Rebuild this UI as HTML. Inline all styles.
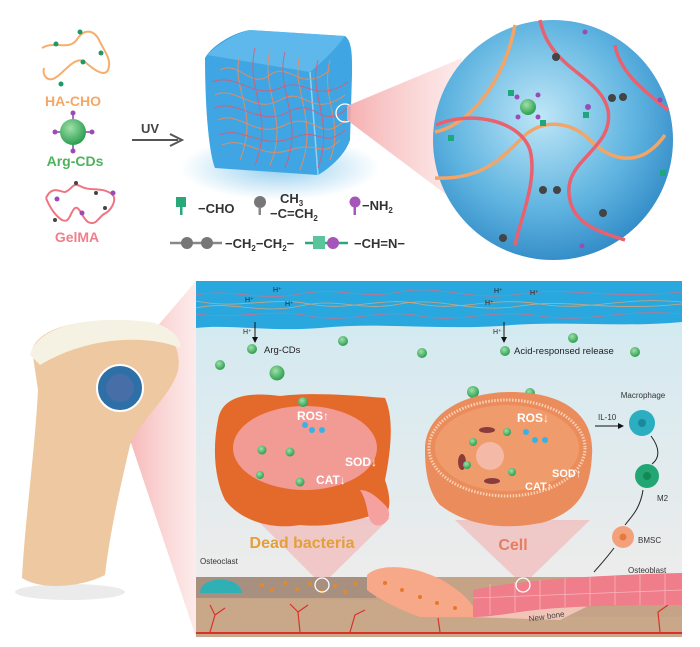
<!DOCTYPE html>
<html><head><meta charset="utf-8"><style>
html,body{margin:0;padding:0;background:#fff;width:700px;height:647px;overflow:hidden}
svg{display:block}
text{font-family:"Liberation Sans",Arial,sans-serif}
</style></head><body>
<svg width="700" height="647" viewBox="0 0 700 647" xmlns="http://www.w3.org/2000/svg">
<defs>
<radialGradient id="sph" cx="0.45" cy="0.4" r="0.65"><stop offset="0" stop-color="#bfe6f7"/><stop offset="0.6" stop-color="#5fb4e0"/><stop offset="1" stop-color="#2d86c4"/></radialGradient>
<radialGradient id="gdot" cx="0.4" cy="0.35" r="0.7"><stop offset="0" stop-color="#9fe0a8"/><stop offset="1" stop-color="#239a4a"/></radialGradient>
<linearGradient id="cone" x1="0" x2="1"><stop offset="0" stop-color="#f4a6a6" stop-opacity="0.9"/><stop offset="1" stop-color="#fbd6d6" stop-opacity="0.5"/></linearGradient>
<linearGradient id="bg2" x1="0" y1="0" x2="0" y2="1"><stop offset="0" stop-color="#cfeaf2"/><stop offset="1" stop-color="#f3ecea"/></linearGradient>
<radialGradient id="glow" cx="0.5" cy="0.5" r="0.5"><stop offset="0" stop-color="#4fb0e4" stop-opacity="0.6"/><stop offset="1" stop-color="#4fb0e4" stop-opacity="0"/></radialGradient>
</defs>

<!-- top left components -->
<path d="M42,48 C55,40 70,52 78,38 C85,28 95,30 100,42 C105,52 112,60 108,70 C104,78 92,68 85,62 C75,55 65,72 55,78 C48,82 42,76 44,68" fill="none" stroke="#f7ad6e" stroke-width="2"/>
<circle cx="56" cy="44" r="2.5" fill="#1a9a6a"/><circle cx="80" cy="32" r="2.5" fill="#1a9a6a"/><circle cx="101" cy="53" r="2.5" fill="#1a9a6a"/><circle cx="83" cy="62" r="2.5" fill="#1a9a6a"/><circle cx="61" cy="84" r="2.5" fill="#1a9a6a"/>
<text x="73" y="106" font-size="14" font-weight="bold" fill="#f7a765" text-anchor="middle">HA-CHO</text>
<line x1="73" y1="112" x2="73" y2="152" stroke="#8d3fa8" stroke-width="1.5"/><line x1="55" y1="132" x2="91" y2="132" stroke="#8d3fa8" stroke-width="1.5"/>
<circle cx="73" cy="132" r="13" fill="url(#gdot)"/>
<circle cx="73" cy="113" r="2.5" fill="#9b4bb5"/><circle cx="73" cy="151" r="2.5" fill="#9b4bb5"/><circle cx="55" cy="132" r="2.5" fill="#9b4bb5"/><circle cx="92" cy="132" r="2.5" fill="#9b4bb5"/>
<text x="75" y="166" font-size="14" font-weight="bold" fill="#4db35a" text-anchor="middle">Arg-CDs</text>
<path d="M46,198 C52,185 60,192 65,192 C72,190 72,182 80,186 C90,192 100,186 112,194 C118,200 110,212 104,214 C98,218 96,226 88,222 C82,218 80,206 75,208 C70,212 70,224 62,220 C56,216 50,208 46,198" fill="none" stroke="#ee7683" stroke-width="2"/>
<circle cx="76" cy="183" r="2" fill="#444"/><circle cx="96" cy="193" r="2" fill="#444"/><circle cx="57" cy="199" r="2.5" fill="#9b4bb5"/><circle cx="113" cy="193" r="2.5" fill="#9b4bb5"/><circle cx="82" cy="213" r="2.5" fill="#9b4bb5"/><circle cx="55" cy="220" r="2" fill="#444"/><circle cx="105" cy="208" r="2" fill="#444"/>
<text x="77" y="242" font-size="14" font-weight="bold" fill="#f07f8a" text-anchor="middle">GelMA</text>

<!-- UV arrow -->
<text x="150" y="133" font-size="13" font-weight="bold" fill="#444" text-anchor="middle">UV</text>
<line x1="132" y1="140" x2="178" y2="140" stroke="#555" stroke-width="2"/><path d="M170,134 L182,140 L170,146" fill="none" stroke="#555" stroke-width="2"/>

<!-- cube -->
<ellipse cx="280" cy="168" rx="100" ry="32" fill="url(#glow)"/>
<path d="M205,58 C212,45 235,32 250,30 L345,36 C353,42 352,60 352,75 L350,140 C345,155 330,168 318,175 L215,168 C208,150 205,100 205,58 Z" fill="#3fa6e3"/>
<path d="M207,55 C220,42 240,32 250,30 L345,36 C335,50 322,62 310,72 Z" fill="#66bdee" opacity="0.8"/>
<path d="M310,72 L318,175" stroke="#a9dcf6" stroke-width="1.5" opacity="0.8"/>
<g stroke="#f08a5a" stroke-width="1" fill="none" opacity="0.9">
<path d="M220,70 C240,60 250,90 270,75 S300,95 330,70"/><path d="M215,95 C235,85 255,115 280,100 S310,120 345,95"/><path d="M218,120 C240,110 255,140 285,125 S320,145 345,120"/><path d="M222,145 C245,135 260,160 290,150 S320,160 340,140"/>
<path d="M240,55 C230,90 260,110 240,160"/><path d="M270,50 C260,90 290,120 270,165"/><path d="M300,55 C290,90 320,120 300,170"/><path d="M330,60 C320,100 345,120 330,160"/>
</g>
<g stroke="#e8526a" stroke-width="1" fill="none" opacity="0.8">
<path d="M212,82 C235,72 255,100 280,88 S315,105 348,82"/><path d="M214,108 C238,98 260,128 288,112 S320,132 348,108"/><path d="M220,135 C240,125 262,150 292,138 S322,150 345,130"/>
<path d="M255,48 C245,90 275,115 255,165"/><path d="M285,52 C275,90 305,120 285,168"/><path d="M318,60 C308,95 335,120 318,168"/>
</g>
<circle cx="345" cy="113" r="9" fill="none" stroke="#fff" stroke-width="1.3"/>

<!-- pink cone top -->
<path d="M347,106 L462,58 L448,196 L347,120 Z" fill="url(#cone)"/>
<!-- big sphere -->
<circle cx="553" cy="140" r="120" fill="url(#sph)"/>
<g fill="none" stroke-width="3.5">
<path d="M515,25 C505,80 470,125 435,132" stroke="#f2a567"/>
<path d="M435,178 C480,180 500,160 520,140 C540,118 570,120 590,140 C610,160 640,170 665,135" stroke="#f2a567"/>
<path d="M540,20 C550,70 600,75 608,110 C615,150 560,160 570,200 C575,225 600,232 625,240" stroke="#e9616f"/>
<path d="M436,125 C470,110 520,120 530,150 C538,180 520,220 515,245" stroke="#e9616f"/>
<path d="M615,45 C620,75 650,95 668,110" stroke="#e9616f"/>
</g>
<circle cx="528" cy="107" r="8" fill="url(#gdot)"/>
<circle cx="556" cy="57" r="4" fill="#444"/><circle cx="612" cy="98" r="4" fill="#444"/><circle cx="623" cy="97" r="4" fill="#444"/><circle cx="543" cy="190" r="4" fill="#444"/><circle cx="557" cy="190" r="4" fill="#444"/><circle cx="603" cy="213" r="4" fill="#444"/><circle cx="503" cy="238" r="4" fill="#444"/>
<rect x="508" y="90" width="6" height="6" fill="#1ea77a"/><rect x="540" y="120" width="6" height="6" fill="#1ea77a"/><rect x="583" y="112" width="6" height="6" fill="#1ea77a"/><rect x="448" y="135" width="6" height="6" fill="#1ea77a"/><rect x="660" y="170" width="6" height="6" fill="#1ea77a"/>
<circle cx="517" cy="97" r="2.5" fill="#9b4bb5"/><circle cx="538" cy="95" r="2.5" fill="#9b4bb5"/><circle cx="518" cy="117" r="2.5" fill="#9b4bb5"/><circle cx="538" cy="117" r="2.5" fill="#9b4bb5"/><circle cx="588" cy="107" r="3" fill="#9b4bb5"/><circle cx="585" cy="32" r="2.5" fill="#9b4bb5"/><circle cx="660" cy="100" r="2.5" fill="#9b4bb5"/><circle cx="582" cy="246" r="2.5" fill="#9b4bb5"/>

<!-- legend -->
<rect x="176" y="197" width="10" height="10" fill="#2aa87a"/><rect x="180" y="207" width="2.5" height="8" fill="#2aa87a"/>
<text x="198" y="213" font-size="13" font-weight="bold" fill="#333">−CHO</text>
<circle cx="260" cy="202" r="6" fill="#777"/><rect x="258.5" y="207" width="2.5" height="8" fill="#888"/>
<text x="280" y="203" font-size="13" font-weight="bold" fill="#333">CH<tspan font-size="8" dy="3">3</tspan></text>
<text x="270" y="218" font-size="13" font-weight="bold" fill="#333">−C=CH<tspan font-size="8" dy="3">2</tspan></text>
<circle cx="355" cy="202" r="5.5" fill="#a656b8"/><rect x="353.5" y="206" width="2.5" height="9" fill="#a656b8"/>
<text x="362" y="210" font-size="13" font-weight="bold" fill="#333">−NH<tspan font-size="8" dy="3">2</tspan></text>
<line x1="170" y1="243" x2="222" y2="243" stroke="#888" stroke-width="2.5"/>
<circle cx="187" cy="243" r="6" fill="#777"/><circle cx="207" cy="243" r="6" fill="#777"/>
<text x="225" y="248" font-size="13" font-weight="bold" fill="#333">−CH<tspan font-size="8" dy="3">2</tspan><tspan dy="-3">−CH</tspan><tspan font-size="8" dy="3">2</tspan><tspan dy="-3">−</tspan></text>
<line x1="305" y1="243" x2="348" y2="243" stroke="#2aa87a" stroke-width="2.5"/>
<rect x="313" y="236" width="12" height="13" fill="#5ac59a"/><circle cx="333" cy="243" r="6" fill="#a656b8"/>
<text x="354" y="248" font-size="13" font-weight="bold" fill="#333">−CH=N−</text>

<!-- lower pink cone -->
<path d="M120,370 L196,281 L196,637 L120,410 Z" fill="url(#cone)"/>
<!-- bone -->
<ellipse cx="70" cy="592" rx="55" ry="8" fill="#ddd" opacity="0.6"/>
<path d="M32,350 C40,325 90,315 150,325 C170,330 182,350 178,370 C172,395 140,420 130,445 C122,480 110,530 105,575 C80,588 40,590 22,578 C25,520 35,450 38,390 Z" fill="#edc8a0"/>
<path d="M30,355 C38,325 90,315 150,322 C170,326 182,338 180,348 C150,335 90,335 40,365 Z" fill="#f5f2e4"/>
<circle cx="120" cy="388" r="23" fill="#2e6fa8" stroke="#fff" stroke-width="2"/>
<circle cx="120" cy="388" r="14" fill="#5a6ea8" opacity="0.6"/>

<!-- panel -->
<rect x="196" y="281" width="486" height="356" fill="url(#bg2)"/>
<path d="M196,281 H682 V322 C620,328 560,320 500,326 C440,330 380,322 320,328 C270,332 230,324 196,328 Z" fill="#29a8e0"/>
<g fill="none" stroke-width="0.8" opacity="0.8">
<path d="M196,295 C230,288 260,302 300,294 S360,300 400,292 S470,302 520,294 S600,300 682,292" stroke="#e8697b"/>
<path d="M196,308 C230,300 260,315 300,306 S360,312 400,304 S470,314 520,306 S600,312 682,304" stroke="#f2a567"/>
<path d="M196,301 C240,310 270,296 310,304 S380,296 420,304 S490,296 540,304 S620,296 682,302" stroke="#f2a567"/>
<path d="M196,314 C240,320 270,308 310,316 S380,308 420,316 S490,308 540,316 S620,308 682,314" stroke="#e8697b"/>
</g>
<g font-size="7" fill="#222"><text x="273" y="292">H⁺</text><text x="245" y="302">H⁺</text><text x="285" y="306">H⁺</text><text x="494" y="293">H⁺</text><text x="530" y="295">H⁺</text><text x="485" y="305">H⁺</text><text x="243" y="334">H⁺</text><text x="493" y="334">H⁺</text></g>
<line x1="255" y1="322" x2="255" y2="341" stroke="#111" stroke-width="1"/><path d="M252,337 L255,343 L258,337 Z" fill="#111"/>
<line x1="504" y1="322" x2="504" y2="341" stroke="#111" stroke-width="1"/><path d="M501,337 L504,343 L507,337 Z" fill="#111"/>
<g fill="url(#gdot)"><circle cx="252" cy="349" r="5"/><circle cx="343" cy="341" r="5"/><circle cx="422" cy="353" r="5"/><circle cx="220" cy="365" r="5"/><circle cx="277" cy="373" r="7.5"/><circle cx="505" cy="351" r="5"/><circle cx="573" cy="338" r="5"/><circle cx="635" cy="352" r="5"/><circle cx="473" cy="392" r="6"/><circle cx="530" cy="393" r="5"/></g>
<text x="264" y="353" font-size="9.5" fill="#222">Arg-CDs</text>
<text x="514" y="354" font-size="9.5" fill="#222">Acid-responsed release</text>

<!-- pink cones from cells -->
<path d="M255,518 L322,585 L390,518 Z" fill="#f3b0b0" opacity="0.6"/>
<path d="M455,520 L523,585 L590,520 Z" fill="#f3b0b0" opacity="0.6"/>

<!-- dead bacteria -->
<path d="M218,420 C222,395 250,392 280,396 C310,392 350,395 385,398 C395,420 390,455 385,480 C392,500 392,520 375,515 C355,520 330,528 300,525 C270,530 240,520 225,500 C215,480 212,450 218,420 Z" fill="#e46a2c"/>
<ellipse cx="305" cy="448" rx="72" ry="42" fill="#f29a94"/>
<path d="M360,490 C370,505 365,520 375,525 C385,528 395,515 385,505 C375,495 368,490 360,490 Z" fill="#f5a1a0"/>
<g fill="url(#gdot)"><circle cx="262" cy="450" r="4.5"/><circle cx="290" cy="452" r="4.5"/><circle cx="300" cy="482" r="4.5"/><circle cx="260" cy="475" r="4"/><circle cx="303" cy="402" r="5"/></g>
<circle cx="305" cy="425" r="3" fill="#3ab1e6"/><circle cx="312" cy="430" r="3" fill="#3ab1e6"/><circle cx="322" cy="430" r="3" fill="#3ab1e6"/>
<text x="297" y="420" font-size="12" font-weight="bold" fill="#fff">ROS↑</text>
<text x="345" y="466" font-size="12" font-weight="bold" fill="#fff">SOD↓</text>
<text x="316" y="484" font-size="12" font-weight="bold" fill="#fff">CAT↓</text>
<text x="302" y="548" font-size="16" font-weight="bold" fill="#e3a03a" text-anchor="middle">Dead bacteria</text>

<!-- cell -->
<path d="M425,450 C425,410 470,392 510,392 C560,392 595,412 592,455 C590,490 580,510 545,522 C510,530 470,528 440,505 C428,492 425,470 425,450 Z" fill="#eb8c5c"/>
<ellipse cx="507" cy="448" rx="78" ry="48" fill="none" stroke="#f7d2b4" stroke-width="3" stroke-dasharray="1.5 1.5"/>
<ellipse cx="507" cy="448" rx="72" ry="43" fill="#f09b6b"/>
<circle cx="490" cy="456" r="14" fill="#f5b9a8"/>
<ellipse cx="487" cy="430" rx="8" ry="3" fill="#8a3c3c"/><ellipse cx="462" cy="462" rx="4" ry="8" fill="#8a3c3c"/><ellipse cx="492" cy="481" rx="8" ry="3" fill="#8a3c3c"/>
<g fill="url(#gdot)"><circle cx="473" cy="442" r="4"/><circle cx="507" cy="432" r="4"/><circle cx="467" cy="465" r="4"/><circle cx="512" cy="472" r="4"/></g>
<circle cx="526" cy="432" r="3" fill="#3ab1e6"/><circle cx="535" cy="440" r="3" fill="#3ab1e6"/><circle cx="545" cy="440" r="3" fill="#3ab1e6"/>
<text x="517" y="422" font-size="12" font-weight="bold" fill="#fff">ROS↓</text>
<text x="552" y="477" font-size="11" font-weight="bold" fill="#fff">SOD↑</text>
<text x="525" y="490" font-size="11" font-weight="bold" fill="#fff">CAT↑</text>
<text x="513" y="550" font-size="16" font-weight="bold" fill="#e47e60" text-anchor="middle">Cell</text>

<!-- macrophage pathway -->
<text x="643" y="398" font-size="8" fill="#333" text-anchor="middle">Macrophage</text>
<circle cx="642" cy="423" r="13" fill="#2aaec0"/><circle cx="642" cy="423" r="4" fill="#1a8a9a"/>
<text x="598" y="420" font-size="8" fill="#333">IL-10</text>
<line x1="595" y1="426" x2="622" y2="426" stroke="#111"/><path d="M618,423 L624,426 L618,429 Z" fill="#111"/>
<path d="M651,436 C660,448 660,458 652,464" fill="none" stroke="#222"/>
<circle cx="647" cy="476" r="12" fill="#22a673"/><circle cx="647" cy="476" r="4" fill="#138a55"/>
<text x="657" y="501" font-size="8" fill="#333">M2</text>
<path d="M643,490 C640,510 630,518 625,525" fill="none" stroke="#222"/>
<circle cx="623" cy="537" r="11" fill="#f3a17c"/><circle cx="623" cy="537" r="3.5" fill="#e67a3a"/>
<text x="638" y="543" font-size="8" fill="#333">BMSC</text>
<path d="M614,548 C605,560 600,565 594,572" fill="none" stroke="#222"/>
<text x="628" y="573" font-size="8" fill="#333">Osteoblast</text>
<text x="200" y="564" font-size="8" fill="#333">Osteoclast</text>

<!-- ground -->
<rect x="196" y="577" width="486" height="60" fill="#c4a386"/>
<rect x="196" y="577" width="180" height="21" fill="#a89080"/>
<path d="M376,600 C420,605 440,615 470,617 H682 V637 H196 V598 Z" fill="#c9a789"/>
<path d="M470,617 C520,612 560,602 600,600 L560,620 Z" fill="#f1c4b8"/>
<path d="M196,633 H682" stroke="#d9322b" stroke-width="2"/>
<g stroke="#d9322b" stroke-width="1.2" fill="none"><path d="M210,632 L215,615 L210,605 M215,615 L225,608"/><path d="M300,632 L298,612 L290,604 M298,612 L308,605"/><path d="M350,632 L355,615 L365,610"/><path d="M440,632 L438,618"/><path d="M660,632 L658,612 L668,605"/></g>
<path d="M200,593 C200,575 240,575 242,593 Z" fill="#2fb0b5"/>
<g fill="#e38a2a"><circle cx="262" cy="585" r="2"/><circle cx="272" cy="590" r="2"/><circle cx="285" cy="583" r="2"/><circle cx="297" cy="589" r="2"/><circle cx="310" cy="584" r="2"/><circle cx="322" cy="592" r="2"/><circle cx="335" cy="586" r="2"/><circle cx="345" cy="592" r="2"/><circle cx="355" cy="584" r="2"/></g>
<path d="M367,575 C380,562 420,565 450,585 C465,595 475,605 477,617 L420,617 C400,610 380,600 367,590 Z" fill="#f6a888"/>
<g fill="#e6782e"><circle cx="385" cy="583" r="2"/><circle cx="402" cy="590" r="2"/><circle cx="420" cy="597" r="2"/><circle cx="437" cy="603" r="2"/><circle cx="455" cy="608" r="2"/></g>
<path d="M473,590 C520,580 600,575 682,573 V605 C620,605 560,606 520,612 C500,615 485,617 473,617 Z" fill="#ef7d8a"/>
<g stroke="#f7b5bd" stroke-width="0.8"><line x1="473" y1="598" x2="682" y2="590"/><line x1="490" y1="584" x2="490" y2="615"/><line x1="515" y1="582" x2="515" y2="612"/><line x1="540" y1="580" x2="540" y2="610"/><line x1="565" y1="578" x2="565" y2="607"/><line x1="590" y1="577" x2="590" y2="606"/><line x1="615" y1="576" x2="615" y2="605"/><line x1="640" y1="575" x2="640" y2="605"/><line x1="665" y1="574" x2="665" y2="605"/></g>
<text x="547" y="619" font-size="8" fill="#444" transform="rotate(-8 547 619)" text-anchor="middle">New bone</text>
<circle cx="322" cy="585" r="7" fill="none" stroke="#fff" stroke-width="1.3"/>
<circle cx="523" cy="585" r="7" fill="none" stroke="#fff" stroke-width="1.3"/>
</svg>
</body></html>
